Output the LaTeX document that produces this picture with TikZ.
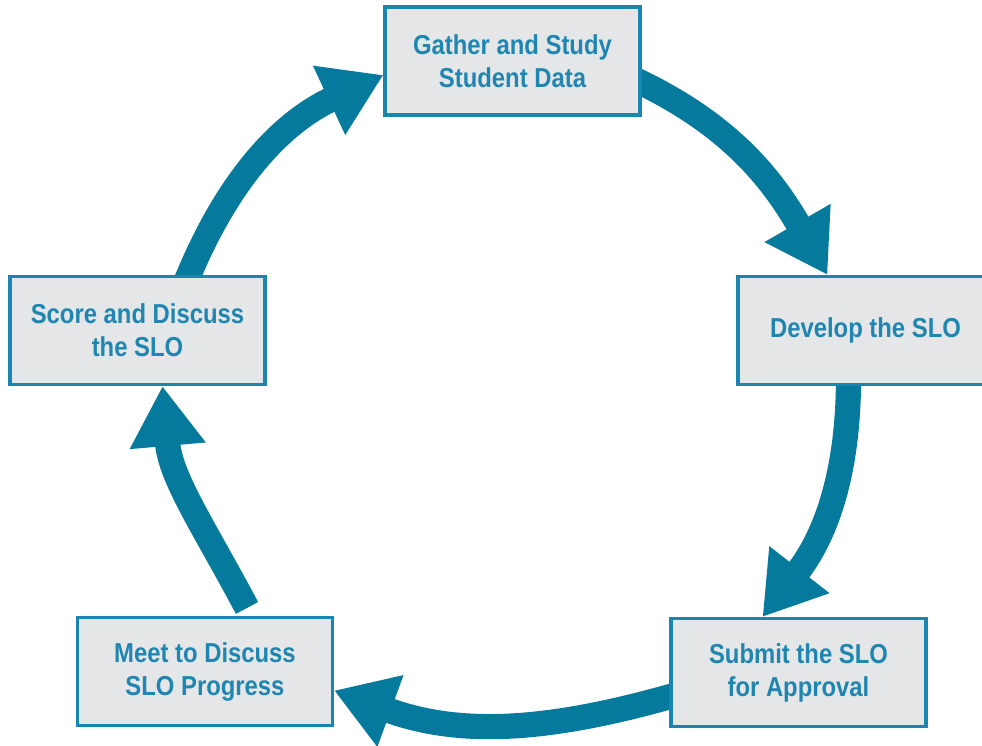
\documentclass[tikz,border=0pt]{standalone}
\usepackage{fontspec}
\setsansfont{Liberation Sans}[FakeStretch=0.87]
\usepackage{tikz}
\usetikzlibrary{arrows.meta, backgrounds}

\definecolor{boxfill}{RGB}{229,230,232}
\definecolor{boxline}{RGB}{25,134,178}
\definecolor{boxtext}{RGB}{30,134,176}
\definecolor{flowblue}{RGB}{6,122,156}

\begin{document}
\begin{tikzpicture}[
        stagebox/.style={draw=boxline, line width=2.2pt, fill=boxfill, text=boxtext,
            minimum width=6.375cm, minimum height=2.7cm, inner sep=0pt, align=center,
            font=\sffamily\bfseries\fontsize{19.5}{23.5}\selectfont},
        flow/.style={draw=flowblue, line width=0.63cm,
            -{Triangle[length=1.5cm, width=1.8cm]}}
        ]
        \useasboundingbox (0,0) rectangle (24.55,18.65);
        % Nodes
        \node[stagebox] (gather) at (12.8125,17.125) {Gather and Study\\Student Data};
        \node[stagebox] (develop) at (21.6375,10.3875) {Develop the SLO};
        \node[stagebox] (submit) at (19.9625,1.8375) {Submit the SLO\\for Approval};
        \node[stagebox] (meet) at (5.125,1.8625) {Meet to Discuss\\SLO Progress};
        \node[stagebox] (score) at (3.4375,10.3875) {Score and Discuss\\the SLO};

        % Arrows
        \begin{scope}[on background layer]
        \draw[flow] ([xshift=-0.2cm, yshift=-0.45cm]gather.east) to[out=-25, in=120]
            ([xshift=-0.95cm]develop.north);
        \draw[flow] ([xshift=-0.425cm, yshift=0.2cm]develop.south) to[out=-90, in=52]
            ([xshift=-0.9cm]submit.north);
        \draw[flow] ([xshift=0.2cm, yshift=-0.55cm]submit.west) to[out=196, in=-20]
            ([yshift=-0.475cm]meet.east);
        \draw[flow] ([xshift=1.05cm, yshift=0.2cm]meet.north) to[out=118, in=-85]
            ([xshift=0.625cm]score.south);
        \draw[flow] ([xshift=1.2cm, yshift=-0.2cm]score.north) to[out=68, in=205]
            ([yshift=-0.35cm]gather.west);
        \end{scope}
    \end{tikzpicture}
\end{document}
